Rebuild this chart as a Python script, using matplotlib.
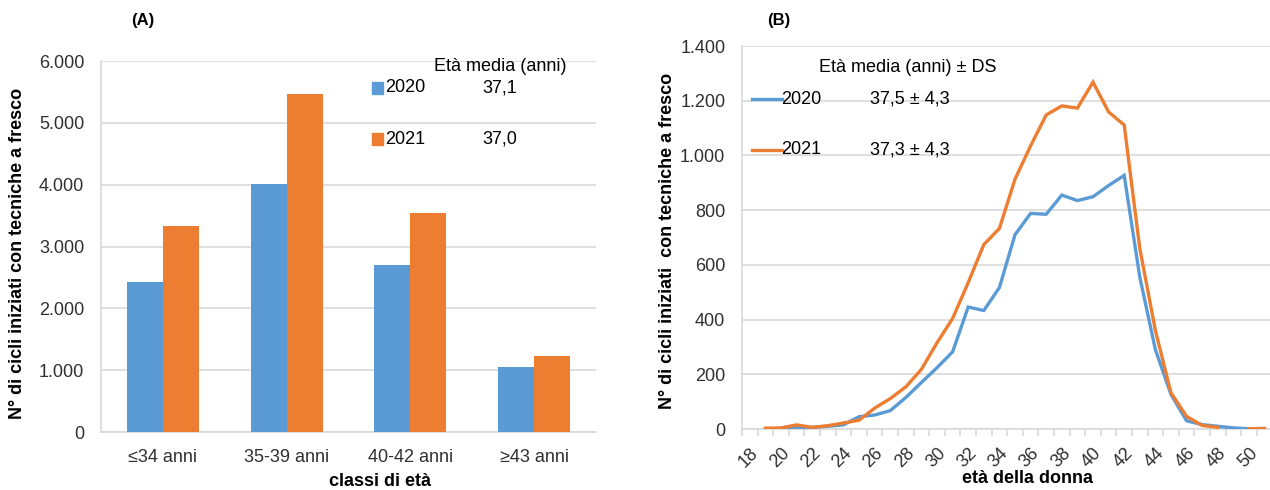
import matplotlib
matplotlib.use("Agg")
import matplotlib.pyplot as plt
from matplotlib.ticker import FuncFormatter, FixedLocator
from matplotlib.patches import Rectangle
from matplotlib.lines import Line2D
import numpy as np

plt.rcParams['font.family'] = ['Liberation Sans', 'DejaVu Sans']

# ---------------- data ----------------
classes = ["≤34 anni", "35-39 anni", "40-42 anni", "≥43 anni"]
bars_2020 = [2420, 4015, 2700, 1045]
bars_2021 = [3325, 5465, 3545, 1228]

ages = list(range(18, 52))
line_2020 = [None, None, 1, 4, 6, 10, 15, 45, 51, 67, 115, 170, 224, 282, 446, 433,
             517, 710, 788, 785, 855, 835, 849, 890, 927, 555, 290, 126, 30, 16, 10, 4, 1, None]
line_2021 = [None, 3, 4, 15, 6, 12, 22, 32, 76, 111, 154, 218, 315, 404, 535, 674,
             733, 913, 1035, 1148, 1181, 1173, 1268, 1159, 1111, 660, 360, 132, 46, 13, 6, None, 1, 2]

legend_years = ["2020", "2021"]
mean_age_A = ["37,1", "37,0"]
mean_age_B = ["37,5 ± 4,3", "37,3 ± 4,3"]

BLUE = "#5B9BD5"
ORANGE = "#ED7D31"
GRID = "#D9D9D9"
TICKC = "#303030"
FS = 13

W, H = 1270, 490
fig = plt.figure(figsize=(W / 100, H / 100), dpi=100)


def fx(px):
    return px / W


def fy(py):
    return 1 - py / H


def thousands(v, pos):
    return f"{int(round(v)):,}".replace(",", ".")


# ---------------- panel A ----------------
axA = fig.add_axes([fx(101), fy(432), fx(596) - fx(101), fy(61) - fy(432)])
x = np.arange(len(classes))
bw = 0.29
axA.bar(x - bw / 2, bars_2020, width=bw, color=BLUE, zorder=3)
axA.bar(x + bw / 2, bars_2021, width=bw, color=ORANGE, zorder=3)
axA.set_xlim(-0.5, len(classes) - 0.5)
axA.set_ylim(0, 6000)
axA.set_yticks(np.arange(0, 6001, 1000))
axA.yaxis.set_major_formatter(FuncFormatter(thousands))
axA.set_xticks(x)
axA.set_xticklabels(classes)
axA.grid(axis='y', color=GRID, linewidth=1.2, zorder=0)
for s in ['top', 'right']:
    axA.spines[s].set_visible(False)
for s in ['left', 'bottom']:
    axA.spines[s].set_color(GRID)
    axA.spines[s].set_linewidth(1.2)
axA.tick_params(axis='y', length=0, labelsize=FS, colors=TICKC, pad=12)
axA.tick_params(axis='x', length=0, labelsize=FS, colors=TICKC, pad=12)

fig.text(fx(143), fy(21), "(A)", fontsize=12, fontweight='bold', ha='center', va='center')
fig.text(fx(18), fy(253), "N° di cicli iniziati con tecniche a fresco", rotation=90,
         fontsize=13, fontweight='bold', ha='center', va='center')
fig.text(fx(380), fy(481), "classi di età", fontsize=13, fontweight='bold',
         ha='center', va='center')

# legend A
fig.text(fx(434), fy(66), "Età media (anni)", fontsize=FS, ha='left', va='center')
for i, (yr, m, c) in enumerate(zip(legend_years, mean_age_A, [BLUE, ORANGE])):
    ypx = 88 + i * 51
    fig.patches.append(Rectangle((fx(372), fy(ypx + 6)), fx(11), fy(ypx - 6) - fy(ypx + 6),
                                 transform=fig.transFigure, color=c))
    fig.text(fx(385), fy(ypx), yr, fontsize=FS, ha='left', va='center')
    fig.text(fx(482), fy(ypx), m, fontsize=FS, ha='left', va='center')

# ---------------- panel B ----------------
axB = fig.add_axes([fx(742), fy(429), fx(1270) - fx(742), fy(46) - fy(429)])
pos = np.arange(len(ages))
y20 = np.array([np.nan if v is None else v for v in line_2020], dtype=float)
y21 = np.array([np.nan if v is None else v for v in line_2021], dtype=float)
axB.plot(pos, y20, color=BLUE, linewidth=2.4, zorder=3, solid_joinstyle='miter')
axB.plot(pos, y21, color=ORANGE, linewidth=2.4, zorder=4, solid_joinstyle='miter')
axB.set_xlim(-0.5, (1270 - 742) / 15.6 - 0.5)
axB.set_ylim(0, 1400)
axB.set_yticks(np.arange(0, 1401, 200))
axB.yaxis.set_major_formatter(FuncFormatter(thousands))
axB.grid(axis='y', color=GRID, linewidth=1.2, zorder=0)
lab_pos = [p for p, a in zip(pos, ages) if a % 2 == 0]
axB.set_xticks(lab_pos)
axB.set_xticklabels([str(a) for a in ages if a % 2 == 0], rotation=45, ha='right',
                    va='top', rotation_mode='anchor')
axB.xaxis.set_minor_locator(FixedLocator(np.arange(-0.5, len(ages), 1.0)))
axB.tick_params(axis='x', which='major', length=0, labelsize=FS, colors=TICKC, pad=11)
axB.tick_params(axis='x', which='minor', length=5, color=GRID, width=1.2, direction='out')
axB.tick_params(axis='y', length=0, labelsize=FS, colors=TICKC, pad=12)
for s in ['top', 'right']:
    axB.spines[s].set_visible(False)
for s in ['left', 'bottom']:
    axB.spines[s].set_color(GRID)
    axB.spines[s].set_linewidth(1.2)

fig.text(fx(779), fy(20), "(B)", fontsize=12, fontweight='bold', ha='center', va='center')
fig.text(fx(667), fy(241), "N° di cicli iniziati  con tecniche a fresco", rotation=90,
         fontsize=13, fontweight='bold', ha='center', va='center')
fig.text(fx(1028), fy(478), "età della donna", fontsize=13, fontweight='bold',
         ha='center', va='center')

# legend B
fig.text(fx(819), fy(68), "Età media (anni) ± DS", fontsize=FS, ha='left', va='center')
for i, (yr, m, c) in enumerate(zip(legend_years, mean_age_B, [BLUE, ORANGE])):
    ypx = 99 + i * 51
    fig.lines.append(Line2D([fx(752), fx(782)], [fy(ypx), fy(ypx)], transform=fig.transFigure,
                            color=c, linewidth=2.4))
    fig.text(fx(781), fy(ypx), yr, fontsize=FS, ha='left', va='center')
    fig.text(fx(870), fy(ypx), m, fontsize=FS, ha='left', va='center')

fig.savefig("out.png", dpi=100)
